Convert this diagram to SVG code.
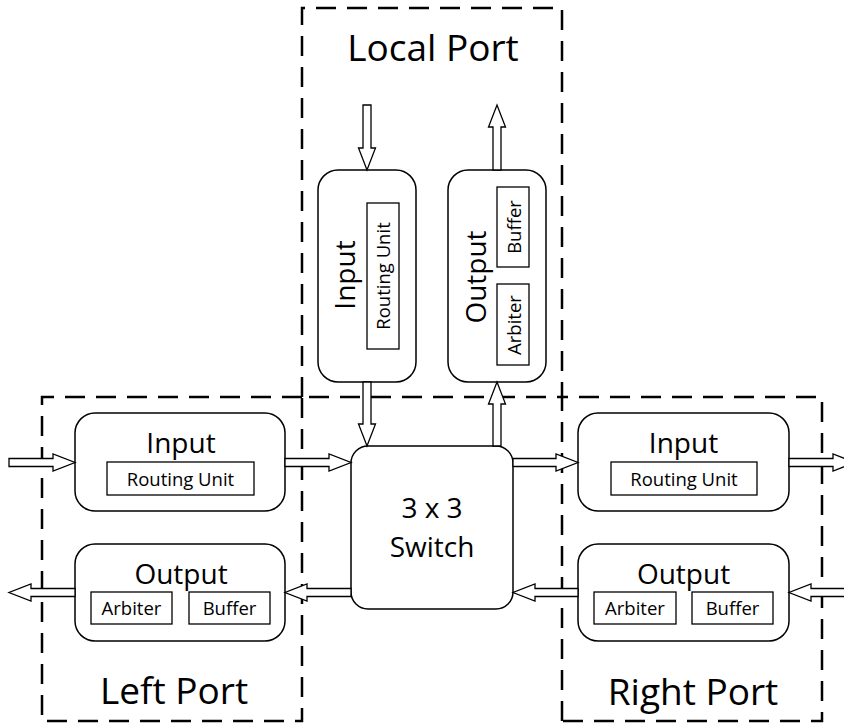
<svg xmlns="http://www.w3.org/2000/svg" width="844" height="727" viewBox="0 0 844 727">
  <style>
    .port { fill: none; stroke: #000; stroke-width: 2.5; stroke-dasharray: 20 11; }
    .node { fill: #fff; stroke: #000; stroke-width: 1.5; }
    .unit { fill: #fff; stroke: #000; stroke-width: 1.3; }
    .arrow { fill: #fff; stroke: #000; stroke-width: 1.3; stroke-linejoin: miter; }
    text { font-family: "Open Sans", "Liberation Sans", sans-serif; fill: #000; text-anchor: middle; }
    .big { font-size: 37px; }
    .mid { font-size: 28px; }
    .small { font-size: 18.5px; }
  </style>

  <rect width="844" height="727" fill="#fff"/>

  <!-- Port boundaries (shared edges drawn only once) -->
  <g id="port-local">
    <path class="port" d="M302,397 V8 H562 V397 Z"/>
    <text class="big" x="433" y="61">Local Port</text>
  </g>
  <g id="port-left">
    <path class="port" d="M302,397 H42 V721 H302 Z"/>
    <text class="big" x="174" y="704">Left Port</text>
  </g>
  <g id="port-right">
    <path class="port" d="M562,721 V397 H822 V721 H562"/>
    <text class="big" x="693" y="705">Right Port</text>
  </g>

  <!-- Local port: input block (vertical) -->
  <g id="local-input">
    <rect class="node" x="318" y="170" width="98" height="212" rx="20"/>
    <text class="mid" transform="translate(355,275) rotate(-90)">Input</text>
    <rect class="unit" x="367" y="203" width="32" height="146"/>
    <text class="small" transform="translate(389.5,276) rotate(-90)">Routing Unit</text>
  </g>

  <!-- Local port: output block (vertical) -->
  <g id="local-output">
    <rect class="node" x="448" y="170" width="98" height="212" rx="20"/>
    <text class="mid" transform="translate(486,277) rotate(-90)">Output</text>
    <rect class="unit" x="497" y="187" width="32" height="80"/>
    <text class="small" transform="translate(520.5,227) rotate(-90)">Buffer</text>
    <rect class="unit" x="497" y="284" width="32" height="81"/>
    <text class="small" transform="translate(520.5,325) rotate(-90)">Arbiter</text>
  </g>

  <!-- Left port -->
  <g id="left-input">
    <rect class="node" x="75" y="413" width="210" height="98" rx="20"/>
    <text class="mid" x="181" y="453">Input</text>
    <rect class="unit" x="107" y="462" width="147" height="33"/>
    <text class="small" x="180.5" y="486">Routing Unit</text>
  </g>
  <g id="left-output">
    <rect class="node" x="75" y="544" width="210" height="97" rx="20"/>
    <text class="mid" x="181" y="584">Output</text>
    <rect class="unit" x="91" y="592" width="81" height="32"/>
    <text class="small" x="131.5" y="615">Arbiter</text>
    <rect class="unit" x="189" y="592" width="81" height="32"/>
    <text class="small" x="229.5" y="615">Buffer</text>
  </g>

  <!-- Right port -->
  <g id="right-input">
    <rect class="node" x="578" y="413" width="211" height="98" rx="20"/>
    <text class="mid" x="683.5" y="453">Input</text>
    <rect class="unit" x="611" y="462" width="146" height="33"/>
    <text class="small" x="684" y="486">Routing Unit</text>
  </g>
  <g id="right-output">
    <rect class="node" x="578" y="544" width="211" height="97" rx="20"/>
    <text class="mid" x="683.5" y="584">Output</text>
    <rect class="unit" x="594" y="592" width="82" height="32"/>
    <text class="small" x="635" y="615">Arbiter</text>
    <rect class="unit" x="692" y="592" width="81" height="32"/>
    <text class="small" x="732.5" y="615">Buffer</text>
  </g>

  <!-- Crossbar -->
  <g id="switch">
    <rect class="node" x="351" y="446" width="162" height="163" rx="17"/>
    <text class="mid" x="432" y="518">3 x 3</text>
    <text class="mid" x="432" y="557">Switch</text>
  </g>

  <!-- Hollow block-arrow connectors -->
  <g id="connectors">
    <!-- local port, vertical -->
    <polygon class="arrow" points="363,105 371,105 371,148 375.5,148 367,170 358.5,148 363,148"/>
    <polygon class="arrow" points="363,382 371,382 371,424 375.5,424 367,446 358.5,424 363,424"/>
    <polygon class="arrow" points="493,446 501,446 501,404 505.5,404 497,382 488.5,404 493,404"/>
    <polygon class="arrow" points="493,170 501,170 501,127 505.5,127 497,105 488.5,127 493,127"/>
    <!-- input row, left to right -->
    <polygon class="arrow" points="9,458.5 53,458.5 53,454 75,462.5 53,471 53,466.5 9,466.5"/>
    <polygon class="arrow" points="285,458.5 329,458.5 329,454 351,462.5 329,471 329,466.5 285,466.5"/>
    <polygon class="arrow" points="513,458.5 556,458.5 556,454 578,462.5 556,471 556,466.5 513,466.5"/>
    <polygon class="arrow" points="789,458.5 833,458.5 833,454 855,462.5 833,471 833,466.5 789,466.5"/>
    <!-- output row, right to left -->
    <polygon class="arrow" points="75,588.5 31,588.5 31,584 9,592.5 31,601 31,596.5 75,596.5"/>
    <polygon class="arrow" points="351,588.5 307,588.5 307,584 285,592.5 307,601 307,596.5 351,596.5"/>
    <polygon class="arrow" points="578,588.5 535,588.5 535,584 513,592.5 535,601 535,596.5 578,596.5"/>
    <polygon class="arrow" points="850,588.5 811,588.5 811,584 789,592.5 811,601 811,596.5 850,596.5"/>
  </g>
</svg>
